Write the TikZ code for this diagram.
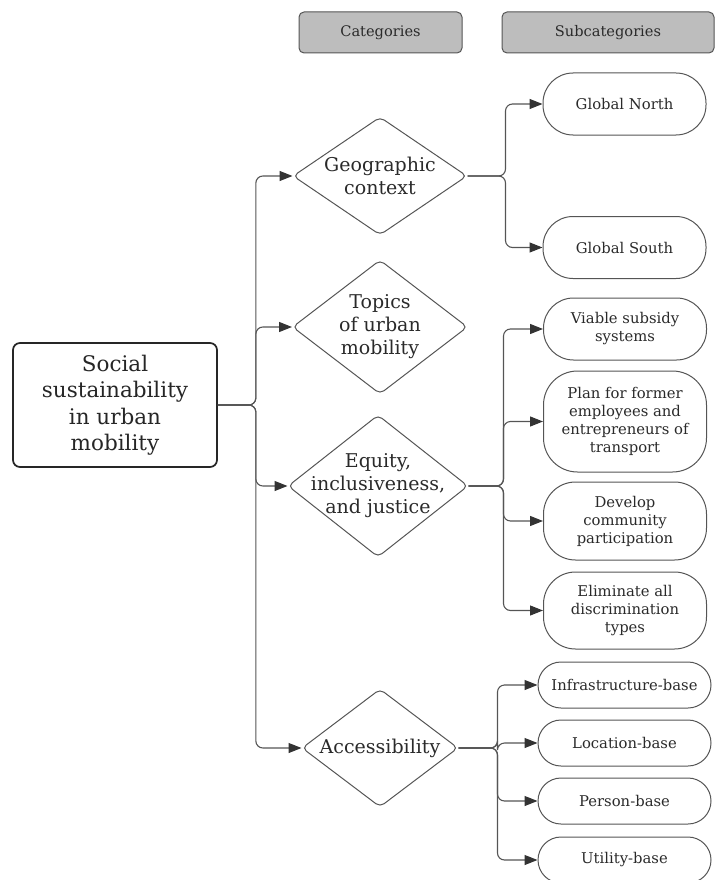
\documentclass[tikz,border=0pt]{standalone}
\usepackage{fontspec}
\setmainfont{DejaVu Serif}
\usetikzlibrary{shapes.geometric,arrows.meta}
\definecolor{linec}{HTML}{555555}
\definecolor{txt}{HTML}{2A2A2A}
\definecolor{hdrfill}{HTML}{BDBDBD}
\definecolor{tipc}{HTML}{333333}
\tikzset{
  hdr/.style={draw=linec, fill=hdrfill, rounded corners=5pt, line width=1pt, minimum height=41pt, text=txt, font=\fontsize{14.6}{17}\selectfont, inner sep=0pt},
  rootbox/.style={draw=black!85, rounded corners=7pt, line width=1.7pt, minimum width=204pt, minimum height=124pt, align=center, text=black!85, font=\fontsize{21.5}{26.5}\selectfont, inner sep=0pt},
  cat/.style={diamond, draw=linec, line width=1pt, rounded corners=5pt, inner sep=0pt},
  cattext/.style={align=center, text=txt, font=\fontsize{19}{23}\selectfont, inner sep=0pt},
  sub/.style={draw=linec, line width=1pt, minimum width=163pt, align=center, text=txt, font=\fontsize{14.8}{18}\selectfont, inner sep=0pt},
  conn/.style={draw=linec, line width=1.1pt, rounded corners=7pt, -{Triangle[length=13pt,width=10pt,color=tipc]}},
}
\begin{document}
\begin{tikzpicture}[x=1pt,y=-1pt]
\useasboundingbox (0,0) rectangle (716,880);
\node[hdr, minimum width=163pt] (hcat) at (380.5,32.5) {Categories};
\node[hdr, minimum width=212pt] (hsub) at (608,32.5) {Subcategories};

\node[rootbox] (root) at (115,405) {Social\\sustainability\\in urban\\mobility};

\node[cat, minimum width=174pt, minimum height=118pt] (geo) at (380,176) {};
\node[cattext] (geot) at (geo.center) {Geographic\\context};
\node[cat, minimum width=175pt, minimum height=134pt] (top) at (380,327) {};
\node[cattext] (topt) at (top.center) {Topics\\of urban\\mobility};
\node[cat, minimum width=180pt, minimum height=142pt] (equ) at (378,486) {};
\node[cattext] (equt) at (equ.center) {Equity,\\inclusiveness,\\and justice};
\node[cat, minimum width=156pt, minimum height=118pt] (acc) at (380,748) {};
\node[cattext] (acct) at (acc.center) {Accessibility};

\node[sub, minimum height=62pt, rounded corners=30pt] (gn) at (624.5,104) {Global North};
\node[sub, minimum height=62pt, rounded corners=30pt] (gs) at (624.5,247.5) {Global South};
\node[sub, minimum height=62pt, rounded corners=30pt] (via) at (625,329) {Viable subsidy\\systems};
\node[sub, minimum height=101pt, rounded corners=34pt] (plan) at (625,421.5) {Plan for former\\employees and\\entrepreneurs of\\transport};
\node[sub, minimum height=78pt, rounded corners=32pt] (dev) at (625,521) {Develop\\community\\participation};
\node[sub, minimum height=77pt, rounded corners=32pt] (eli) at (625,610.5) {Eliminate all\\discrimination\\types};
\node[sub, minimum width=173pt, minimum height=46pt, rounded corners=23pt] (inf) at (624.5,685) {Infrastructure-base};
\node[sub, minimum width=173pt, minimum height=46pt, rounded corners=23pt] (loc) at (624.5,743) {Location-base};
\node[sub, minimum width=173pt, minimum height=46pt, rounded corners=23pt] (per) at (624.5,801) {Person-base};
\node[sub, minimum width=173pt, minimum height=46pt, rounded corners=23pt] (uti) at (624.5,860) {Utility-base};

% trunk
\foreach \t in {geo,top,equ,acc}
  \draw[conn] (root.east) -- ++(38,0) |- (\t.west);
% geographic branch
\foreach \t in {gn,gs}
  \draw[conn] (geo.east) -- ++(38,0) |- (\t.west);
% equity branch
\foreach \t in {via,plan,dev,eli}
  \draw[conn] (equ.east) -- ++(35,0) |- (\t.west);
% accessibility branch
\foreach \t in {inf,loc,per,uti}
  \draw[conn] (acc.east) -- ++(39,0) |- (\t.west);
\end{tikzpicture}
\end{document}
